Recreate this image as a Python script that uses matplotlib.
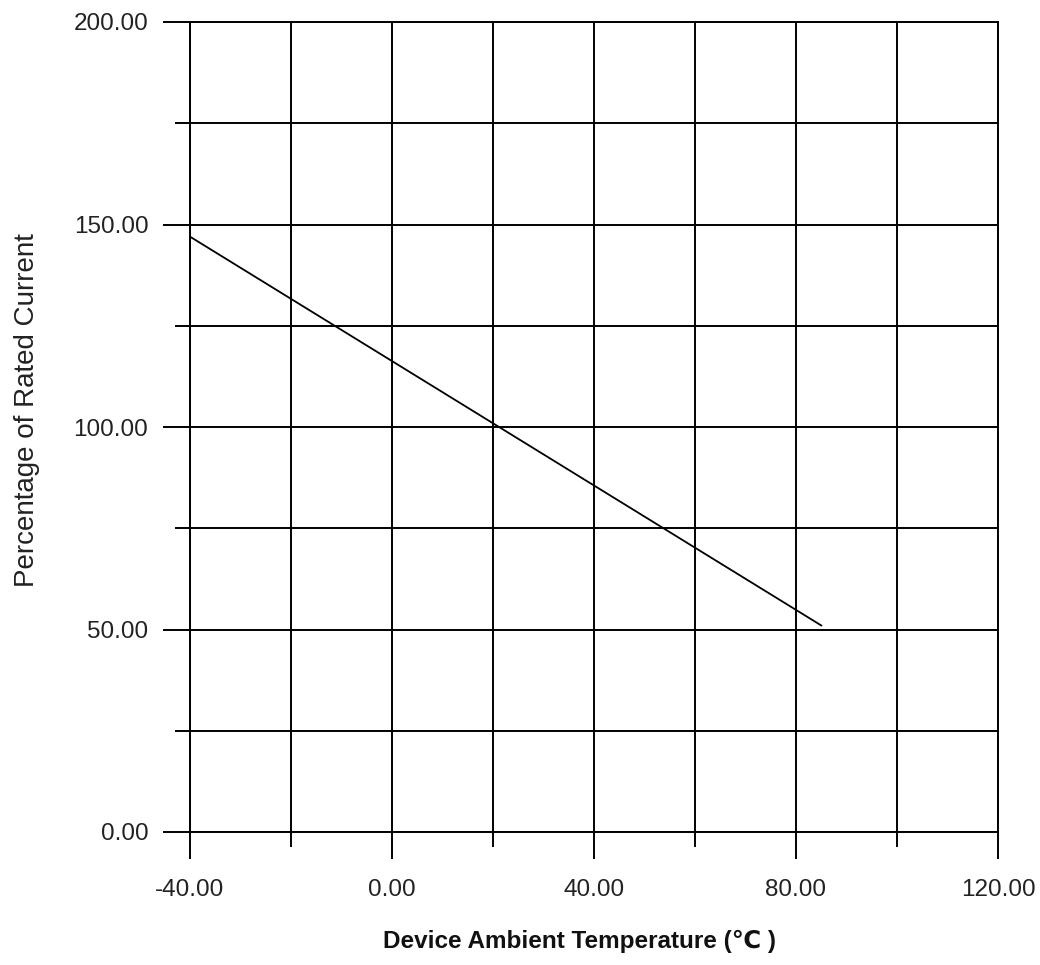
import matplotlib
matplotlib.use("Agg")
import matplotlib.pyplot as plt
from matplotlib.ticker import FormatStrFormatter

plt.rcParams['font.family'] = ['Liberation Sans', 'DejaVu Sans']

temperature = [-40, 85]
percentage = [147, 51]

x_major = [-40, 0, 40, 80, 120]
x_minor = [-20, 20, 60, 100]
y_major = [0, 50, 100, 150, 200]
y_minor = [25, 75, 125, 175]

fig = plt.figure(figsize=(10.4, 9.65), dpi=100)
ax = fig.add_axes([190/1040, 1-832/965, (998-190)/1040, (832-22)/965])

ax.plot(temperature, percentage, color='black', lw=1.3)

ax.set_xlim(-40, 120)
ax.set_ylim(0, 200)
ax.set_xticks(x_major)
ax.set_xticks(x_minor, minor=True)
ax.set_yticks(y_major)
ax.set_yticks(y_minor, minor=True)
ax.xaxis.set_major_formatter(FormatStrFormatter('%.2f'))
ax.yaxis.set_major_formatter(FormatStrFormatter('%.2f'))

ax.grid(True, which='both', color='black', lw=1.4)
ax.set_axisbelow(True)
for s in ax.spines.values():
    s.set_color('black')
    s.set_linewidth(1.4)

ax.tick_params(which='major', length=19.5, width=1.4, color='black', labelsize=17.5, labelcolor='#222222')
ax.tick_params(which='minor', length=10.5, width=1.4, color='black')
ax.xaxis.set_tick_params(which='major', pad=14)
ax.yaxis.set_tick_params(which='major', pad=10.5)

ax.set_xlabel('Device Ambient Temperature (℃ )', fontsize=17.5, fontweight='bold', color='#111111')
ax.xaxis.set_label_coords(0.482, -0.121)
ax.set_ylabel('Percentage of Rated Current', fontsize=20, color='#222222')
ax.yaxis.set_label_coords(-0.1857, 0.521)

fig.savefig('out.png', dpi=100, facecolor='white')
